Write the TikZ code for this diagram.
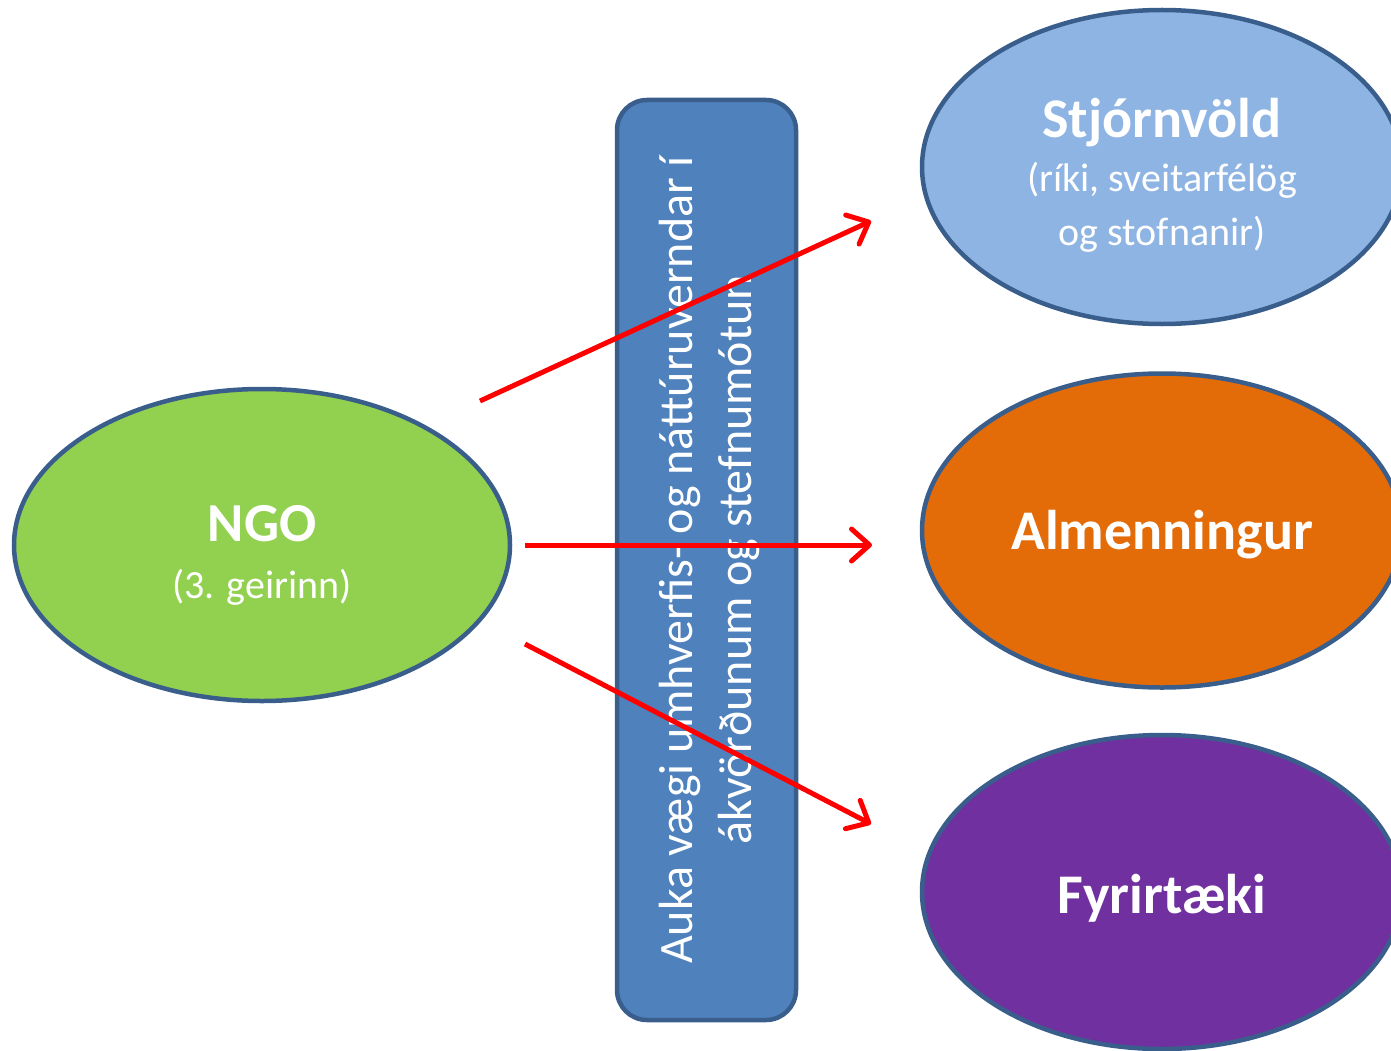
\documentclass[tikz,border=0pt]{standalone}
\usepackage{fontspec}
\setmainfont{Carlito}
\usetikzlibrary{shapes.geometric,arrows.meta}
\definecolor{bord}{HTML}{3A5E8C}
\definecolor{ngogreen}{HTML}{92D050}
\definecolor{govblue}{HTML}{8EB4E3}
\definecolor{puborange}{HTML}{E36C09}
\definecolor{compurple}{HTML}{7030A0}
\definecolor{boxblue}{HTML}{4F81BD}
\tikzset{
  oval/.style={ellipse, draw=bord, line width=4.5pt, inner sep=0pt, text=white, align=center,
    minimum width=480pt, minimum height=314pt},
  redarrow/.style={draw=red, line width=5pt, -{Straight Barb[length=18pt,width=32pt,line cap=round,line join=round]}},
}
\begin{document}
\begin{tikzpicture}[x=1pt,y=-1pt]
\useasboundingbox (0,0) rectangle (1391,1051);
\clip (0,0) rectangle (1391,1051);
% central box
\node (box) [draw=bord, fill=boxblue, line width=4.5pt, rounded corners=30pt, minimum width=179pt, minimum height=920pt, inner sep=0pt] at (706.5,560) {};
\node (boxtext) [rotate=90, text=white, align=center, font=\fontsize{48}{59}\selectfont] at (709,560)
  {Auka vægi umhverfis- og náttúruverndar í\\ ákvörðunum og stefnumótun};
% ellipses
\node (ngo) [oval, fill=ngogreen, minimum width=496pt, minimum height=312pt, font=\fontsize{40}{57}\selectfont] at (262,545)
  {\rule{0pt}{56pt}{\fontsize{55}{57}\selectfont\bfseries NGO}\\(3. geirinn)};
\node (gov) [oval, fill=govblue, font=\fontsize{40}{54}\selectfont] at (1162,167)
  {\rule{0pt}{56pt}{\fontsize{56}{54}\selectfont\bfseries Stjórnvöld}\\(ríki, sveitarfélög\\og stofnanir)};
\node (pub) [oval, fill=puborange] at (1162,530.5)
  {\rule{0pt}{48pt}\fontsize{56}{60}\selectfont\bfseries Almenningur};
\node (com) [oval, fill=compurple] at (1162,892)
  {\rule{0pt}{52pt}\fontsize{56}{60}\selectfont\bfseries Fyrirtæki};
% arrow end points
\coordinate (s1) at (480,401);
\coordinate (t1) at (871,221);
\coordinate (s2) at (525,545);
\coordinate (t2) at (872,545);
\coordinate (s3) at (525,644);
\coordinate (t3) at (871,824);
\draw[redarrow] (s1) -- (t1);
\draw[redarrow] (s2) -- (t2);
\draw[redarrow] (s3) -- (t3);
\end{tikzpicture}
\end{document}
